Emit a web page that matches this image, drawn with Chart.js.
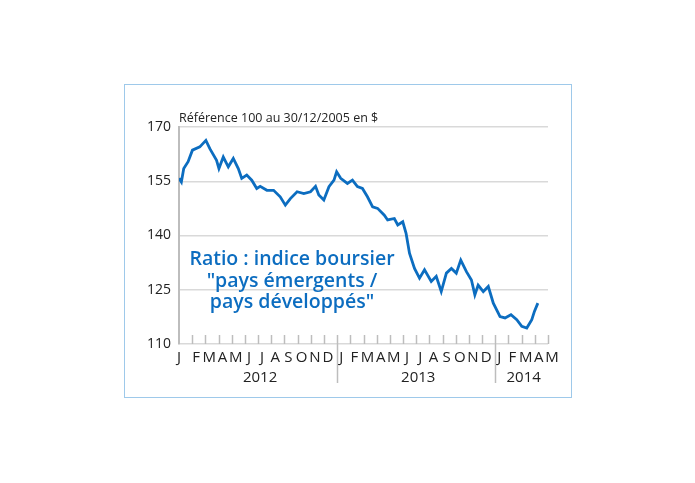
<!DOCTYPE html>
<html><head><meta charset="utf-8">
<script src="https://cdn.jsdelivr.net/npm/chart.js@4"></script>
<style>body{margin:0;background:#fff}#wrap{width:695px;height:483px;position:relative}</style>
</head><body><div id="wrap"><canvas id="c" width="695" height="483"></canvas></div>
<script>
// months since Jan 2012 (0 = start of Jan 2012)
const months = [0,0.18,0.36,0.69,1.02,1.58,2.04,2.34,2.85,3.03,3.36,3.74,4.12,4.5,4.76,5.14,5.52,5.9,6.16,6.67,7.18,7.68,8.07,8.45,8.96,9.47,9.98,10.36,10.61,10.99,11.38,11.76,11.96,12.27,12.78,13.16,13.54,13.92,14.3,14.69,15.07,15.58,15.83,16.34,16.6,16.98,17.23,17.49,17.87,18.25,18.63,19.14,19.52,19.9,20.29,20.67,21.04,21.38,21.81,22.19,22.45,22.7,23.09,23.47,23.85,24.36,24.74,25.19,25.63,26.01,26.39,26.77,26.97,27.23];
const ratio = [155.8,154.8,158.5,160.4,163.6,164.5,166.3,164,160.8,158.5,161.7,159,161.3,158.5,155.8,156.7,155.3,153,153.6,152.5,152.5,150.7,148.4,150.2,152.1,151.6,152.1,153.6,151.2,149.8,153.5,155.3,157.6,155.8,154.4,155.3,153.5,153,150.7,147.9,147.5,145.6,144.3,144.7,142.9,143.8,140.6,135.1,130.9,128.2,130.5,127.3,128.7,124.5,129.6,130.9,129.6,133.2,130,127.7,123.6,126.3,124.5,125.9,121.3,117.6,117.2,118.1,116.7,114.9,114.4,116.7,119,121.3];
const monthLabels = ['J','F','M','A','M','J','J','A','S','O','N','D','J','F','M','A','M','J','J','A','S','O','N','D','J','F','M','A','M'];
const years = [{y:'2012',from:0,to:12},{y:'2013',from:12,to:24},{y:'2014',from:24,to:28}];
const yTicks = [110,125,140,155,170];

const blue = '#0c6dc0';
const deco = {
  id:'deco',
  beforeDraw(ch){
    const c = ch.ctx;
    c.save();
    c.strokeStyle = '#9ec9ea'; c.lineWidth = 1;
    c.strokeRect(124.5, 84.5, 447, 313);
    c.restore();
  },
  afterDraw(ch){
    const c = ch.ctx, x = ch.scales.x, a = ch.chartArea;
    c.save();
    c.strokeStyle = '#bdbdbd'; c.lineWidth = 1.5;
    for (let m = 1; m <= 28; m++) {
      const px = Math.round(x.getPixelForValue(m)) + 0.5;
      c.beginPath(); c.moveTo(px, a.bottom); c.lineTo(px, a.bottom - 9); c.stroke();
    }
    [12, 24].forEach(m => {
      const px = Math.round(x.getPixelForValue(m)) + 0.5;
      c.beginPath(); c.moveTo(px, a.bottom); c.lineTo(px, a.bottom + 39); c.stroke();
    });
    c.fillStyle = '#222'; c.font = '15px "Open Sans", sans-serif';
    c.textAlign = 'center'; c.textBaseline = 'middle';
    monthLabels.forEach((l, i) => c.fillText(l, x.getPixelForValue(i) + (i === 0 ? 0 : 4), a.bottom + 14));
    years.forEach(o => c.fillText(o.y, (x.getPixelForValue(o.from) + x.getPixelForValue(o.to)) / 2 + 2, a.bottom + 34));
    c.textAlign = 'left';
    c.font = '12.5px "Open Sans", sans-serif';
    c.fillText('Référence 100 au 30/12/2005 en $', a.left, 118);
    c.fillStyle = blue; c.textAlign = 'center';
    c.font = '600 19.5px "Open Sans", sans-serif';
    const cx = 292;
    c.fillText('Ratio : indice boursier', cx, 259);
    c.fillText('"pays émergents /', cx, 281);
    c.fillText('pays développés"', cx, 302);
    c.restore();
  }
};

new Chart(document.getElementById('c'), {
  type: 'line',
  data: { datasets: [{ data: months.map((m, i) => ({x: m, y: ratio[i]})), borderColor: blue, borderWidth: 2.8, pointRadius: 0, tension: 0 }] },
  options: {
    responsive: false, animation: false,
    layout: { padding: { left: 139, right: 147, top: 127, bottom: 99 } },
    plugins: { legend: { display: false }, tooltip: { enabled: false } },
    scales: {
      x: {
        type: 'linear', min: 0, max: 28,
        afterFit(s){ s.height = 40; },
        ticks: { display: false },
        grid: { display: false },
        border: { display: false }
      },
      y: {
        min: 110, max: 170,
        afterFit(s){ s.width = 40; },
        afterBuildTicks(s){ s.ticks = yTicks.map(v => ({value: v})); },
        ticks: { color: '#222', padding: 8, font: { family: 'Open Sans', size: 14 } },
        grid: { color: '#d9d9d9', lineWidth: 1.5, drawTicks: false },
        border: { color: '#bdbdbd', width: 2 }
      }
    }
  },
  plugins: [deco]
});
</script></body></html>
